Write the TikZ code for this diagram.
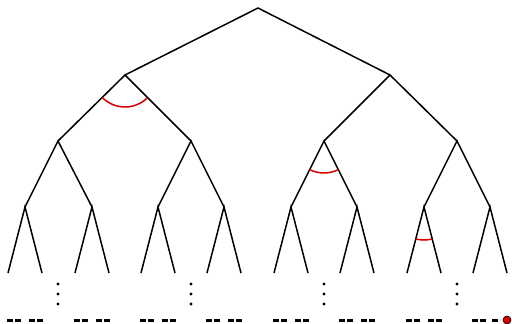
\documentclass[tikz,border=0pt]{standalone}
\usetikzlibrary{angles}
\definecolor{arcred}{RGB}{215,0,0}
\tikzset{
  edge/.style={line width=1.5pt, black},
  anglearc/.style={draw=arcred, line width=1.5pt, angle radius=32pt},
  pt/.style={coordinate},
  leafdash/.style={line width=3pt, dash pattern=on 6pt off 2pt},
  vdot/.style={circle, fill=black, inner sep=0pt, minimum size=3.4pt},
  mark dot/.style={circle, fill=red!85!black, draw=black, line width=0.6pt, inner sep=0pt, minimum size=8pt}
}
\begin{document}
\begin{tikzpicture}[x=1pt, y=-1pt]
\useasboundingbox (0,0) rectangle (512,324);
% root and first two levels
\node[pt] (r) at (258,8) {};
\node[pt] (a) at (125,75) {};
\node[pt] (b) at (390,75) {};
\foreach \n/\x in {aa/58, ab/191, ba/324, bb/457}
  \node[pt] (\n) at (\x,141) {};
% third level
\foreach \n/\x in {c1/25, c2/92, c3/158, c4/224, c5/291, c6/357, c7/424, c8/490}
  \node[pt] (\n) at (\x,207) {};
% leaves
\foreach \i/\x in {1/25, 2/92, 3/158, 4/224, 5/291, 6/357, 7/424, 8/490} {
  \node[pt] (l\i a) at (\x-17,273) {};
  \node[pt] (l\i b) at (\x+17,273) {};
}
% edges
\draw[edge] (a) -- (r) -- (b);
\draw[edge] (aa) -- (a) -- (ab);
\draw[edge] (ba) -- (b) -- (bb);
\draw[edge] (c1) -- (aa) -- (c2);
\draw[edge] (c3) -- (ab) -- (c4);
\draw[edge] (c5) -- (ba) -- (c6);
\draw[edge] (c7) -- (bb) -- (c8);
\foreach \i in {1,...,8}
  \draw[edge] (l\i a) -- (c\i) -- (l\i b);
% angle marks
\pic[anglearc] {angle = aa--a--ab};
\pic[anglearc] {angle = c5--ba--c6};
\pic[anglearc, angle radius=33pt] {angle = l7a--c7--l7b};
% vertical ellipses
\foreach \x in {58,191,324,457}
  \foreach \y in {284,294,304}
    \node[vdot] at (\x,\y) {};
% dashes below the leaves
\foreach \x in {25,92,158,224,291,357,424} {
  \node[pt] (d\x a) at (\x-18,320) {};
  \node[pt] (d\x b) at (\x-4,320) {};
  \node[pt] (e\x a) at (\x+4,320) {};
  \node[pt] (e\x b) at (\x+18,320) {};
  \draw[leafdash] (d\x a) -- (d\x b);
  \draw[leafdash] (e\x a) -- (e\x b);
}
\node[pt] (d490a) at (472,320) {};
\node[pt] (d490b) at (486,320) {};
\node[pt] (e490a) at (492,320) {};
\node[pt] (e490b) at (500,320) {};
\draw[leafdash] (d490a) -- (d490b);
\draw[leafdash] (e490a) -- (e490b);
\node[mark dot] (m) at (507,320) {};
\end{tikzpicture}
\end{document}
